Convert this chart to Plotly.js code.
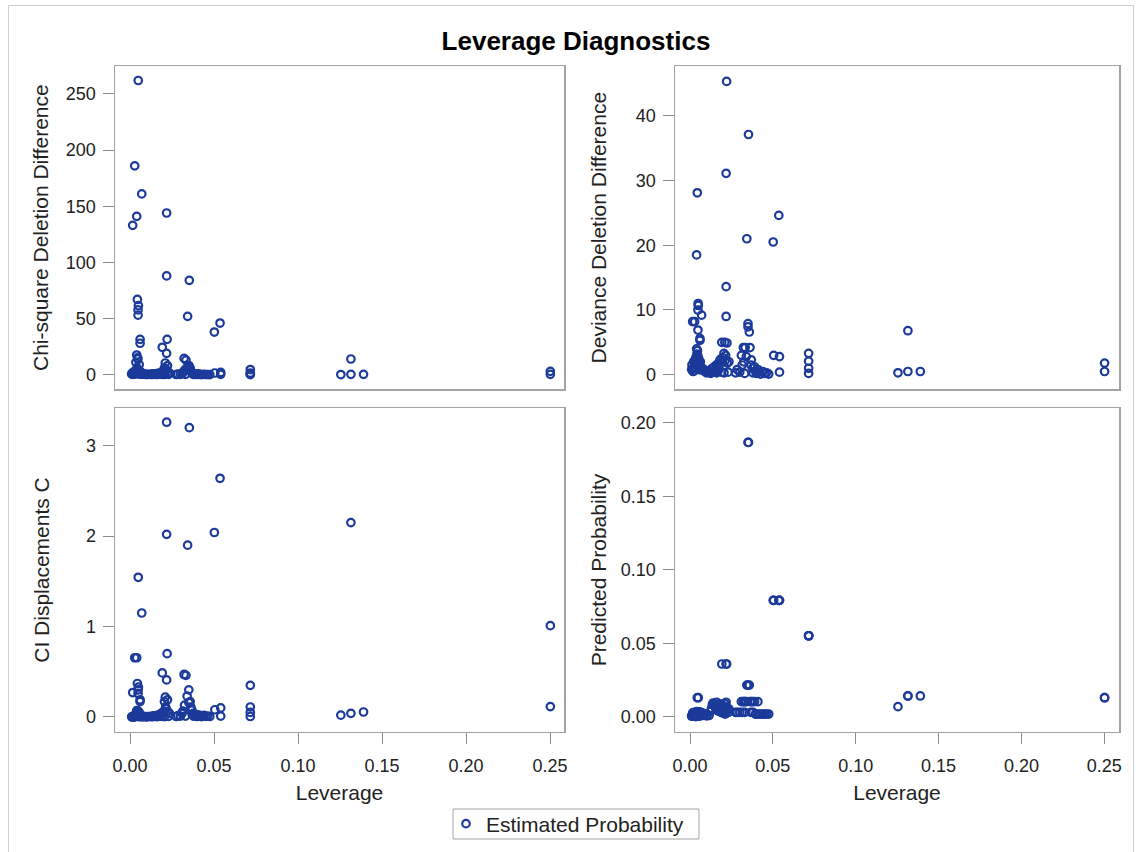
<!DOCTYPE html>
<html>
<head>
<meta charset="utf-8">
<script src="https://cdn.plot.ly/plotly-3.0.1.min.js"></script>
<style>html,body{margin:0;padding:0;background:#fff;}#chart{width:1140px;height:852px;}</style>
</head>
<body>
<div id="chart"></div>
<script>
// Observations (one entry per observation, same order in every array)
const leverage = [
  // low-leverage group
  0.0049, 0.0028, 0.0070, 0.0040, 0.0016, 0.0044, 0.0050, 0.0048, 0.0048, 0.0060,
  0.0060, 0.0040, 0.0045, 0.0047, 0.0035, 0.0055, 0.0010, 0.0020, 0.0025, 0.0030,
  0.0050, 0.0055, 0.0065, 0.0075, 0.0080, 0.0090, 0.0100, 0.0103, 0.0035, 0.0062,
  0.0012, 0.0018, 0.0022, 0.0033, 0.0038, 0.0042, 0.0052, 0.0058, 0.0068, 0.0085,
  // ~0.02 group
  0.0218, 0.0218, 0.0221, 0.0192, 0.0218, 0.0210, 0.0223, 0.0205, 0.0215, 0.0140,
  0.0160, 0.0180, 0.0150, 0.0170, 0.0190, 0.0205, 0.0230, 0.0160, 0.0125, 0.0235,
  0.0115, 0.0130, 0.0135, 0.0145, 0.0155, 0.0165, 0.0175, 0.0185, 0.0195, 0.0200, 0.0212, 0.0225,
  // ~0.035 group
  0.0353, 0.0350, 0.0343, 0.0350, 0.0358, 0.0322, 0.0333, 0.0362, 0.0310, 0.0370,
  0.0390, 0.0410, 0.0275, 0.0300, 0.0330, 0.0380, 0.0400, 0.0425, 0.0450, 0.0475,
  0.0285, 0.0315, 0.0325, 0.0340, 0.0368, 0.0378, 0.0395, 0.0415, 0.0440, 0.0462,
  // ~0.05 group
  0.0536, 0.0502, 0.0505, 0.0540, 0.0540,
  // 0.07 group
  0.0716, 0.0716, 0.0716, 0.0716,
  // 0.13 group
  0.1255, 0.1315, 0.1315, 0.1390,
  // 0.25 group
  0.2502, 0.2502
];
const chiSquareDiff = [
  262, 186, 161, 141, 133, 67, 61.5, 57.7, 53, 31.5,
  28, 17.5, 15, 14, 11, 9, 0.5, 0.6, 0.4, 0.8,
  1.0, 0.5, 0.6, 0.4, 0.5, 0.3, 0.2, 0.3, 2.0, 3.0,
  1.2, 0.3, 2.5, 1.5, 4.0, 6.0, 3.5, 2.0, 1.0, 0.6,
  144, 88, 31.5, 24.4, 19.0, 10.4, 8.0, 6.0, 4.0, 0.5,
  0.8, 1.0, 0.3, 0.4, 0.3, 0.2, 0.3, 0.2, 0.2, 1.5,
  0.4, 0.6, 0.3, 0.8, 0.5, 1.2, 0.7, 2.0, 1.5, 3.0, 5.0, 2.5,
  84, 4.5, 52, 8.2, 6.0, 14.6, 13.0, 3.0, 1.2, 1.0,
  0.8, 0.6, 0.2, 0.3, 0.3, 0.2, 0.2, 0.1, 0.2, 0.1,
  0.5, 2.0, 4.0, 6.5, 2.0, 1.0, 0.5, 0.3, 0.4, 0.2,
  46, 38, 1.5, 2.0, 0.3,
  4.6, 1.5, 0.7, 0.1,
  0.15, 14, 0.3, 0.35,
  3.0, 0.35
];
const devianceDiff = [
  11.0, 8.2, 9.2, 18.5, 8.2, 28.1, 10.7, 10.0, 6.9, 5.6,
  5.3, 4.0, 3.7, 3.0, 2.5, 2.0, 0.8, 1.0, 0.6, 1.2,
  1.5, 0.8, 1.2, 0.7, 0.9, 0.5, 0.3, 0.4, 2.2, 2.0,
  1.5, 0.5, 2.0, 1.8, 2.8, 3.2, 2.5, 1.6, 1.0, 0.7,
  13.6, 9.0, 45.3, 5.0, 31.1, 5.0, 4.9, 3.3, 3.0, 1.0,
  1.5, 2.2, 0.5, 0.6, 0.4, 0.3, 0.4, 0.3, 0.2, 2.0,
  0.6, 0.9, 0.5, 1.2, 0.8, 1.6, 1.0, 2.4, 2.0, 2.6, 2.2, 1.8,
  37.1, 7.9, 21.0, 7.4, 6.6, 4.2, 4.2, 4.2, 3.0, 2.3,
  1.2, 0.8, 0.3, 0.4, 0.2, 0.3, 0.2, 0.1, 0.2, 0.1,
  0.8, 1.5, 2.0, 2.8, 1.5, 1.0, 0.6, 0.4, 0.5, 0.3,
  24.6, 20.5, 3.0, 2.8, 0.4,
  3.3, 2.1, 1.0, 0.2,
  0.3, 6.8, 0.5, 0.5,
  1.8, 0.5
];
const ciDisplacementC = [
  1.545, 0.655, 1.15, 0.655, 0.27, 0.37, 0.33, 0.30, 0.26, 0.19,
  0.17, 0.07, 0.068, 0.066, 0.04, 0.05, 0.001, 0.002, 0.001, 0.003,
  0.005, 0.003, 0.004, 0.003, 0.004, 0.003, 0.002, 0.003, 0.007, 0.02,
  0.002, 0.001, 0.005, 0.005, 0.016, 0.024, 0.018, 0.012, 0.007, 0.005,
  3.26, 2.02, 0.70, 0.487, 0.41, 0.22, 0.19, 0.17, 0.09, 0.01,
  0.01, 0.02, 0.005, 0.007, 0.006, 0.004, 0.007, 0.003, 0.003, 0.04,
  0.005, 0.008, 0.004, 0.012, 0.008, 0.02, 0.012, 0.04, 0.03, 0.06, 0.11, 0.06,
  3.20, 0.16, 1.90, 0.30, 0.17, 0.47, 0.46, 0.11, 0.04, 0.03,
  0.03, 0.02, 0.005, 0.01, 0.01, 0.008, 0.005, 0.004, 0.006, 0.005,
  0.015, 0.065, 0.13, 0.23, 0.075, 0.04, 0.02, 0.012, 0.018, 0.01,
  2.64, 2.04, 0.08, 0.10, 0.01,
  0.35, 0.11, 0.05, 0.005,
  0.02, 2.15, 0.04, 0.055,
  1.01, 0.115
];
const predictedProb = [
  0.0035, 0.0030, 0.0030, 0.0037, 0.0025, 0.0131, 0.0131, 0.0020, 0.0020, 0.0015,
  0.0015, 0.0010, 0.0010, 0.0012, 0.0008, 0.0018, 0.0005, 0.0008, 0.0015, 0.0025,
  0.0030, 0.0005, 0.0020, 0.0010, 0.0025, 0.0015, 0.0008, 0.0014, 0.0003, 0.0022,
  0.0010, 0.0030, 0.0020, 0.0005, 0.0025, 0.0018, 0.0008, 0.0035, 0.0012, 0.0020,
  0.0068, 0.0100, 0.0360, 0.0360, 0.0360, 0.0090, 0.0063, 0.0065, 0.0045, 0.0095,
  0.0100, 0.0090, 0.0070, 0.0040, 0.0030, 0.0025, 0.0030, 0.0050, 0.0040, 0.0055,
  0.0010, 0.0060, 0.0085, 0.0080, 0.0060, 0.0075, 0.0055, 0.0035, 0.0080, 0.0050, 0.0020, 0.0045,
  0.1866, 0.1866, 0.0217, 0.0217, 0.0217, 0.0104, 0.0104, 0.0104, 0.0104, 0.0104,
  0.0104, 0.0104, 0.0032, 0.0032, 0.0032, 0.0032, 0.0020, 0.0020, 0.0020, 0.0020,
  0.0032, 0.0032, 0.0104, 0.0104, 0.0032, 0.0104, 0.0020, 0.0020, 0.0020, 0.0020,
  0.0793, 0.0793, 0.0793, 0.0793, 0.0793,
  0.0552, 0.0552, 0.0552, 0.0552,
  0.0070, 0.0143, 0.0143, 0.0143,
  0.0131, 0.0131
];

const chartTitle = 'Leverage Diagnostics';
const seriesName = 'Estimated Probability';
const xLabel = 'Leverage';
const yLabels = ['Chi-square Deletion Difference', 'Deviance Deletion Difference', 'CI Displacements C', 'Predicted Probability'];
const xTicks = [0, 0.05, 0.10, 0.15, 0.20, 0.25];
const yTicks1 = [0, 50, 100, 150, 200, 250];
const yTicks2 = [0, 10, 20, 30, 40];
const yTicks3 = [0, 1, 2, 3];
const yTicks4 = [0, 0.05, 0.10, 0.15, 0.20];

const FONT = 'Liberation Sans, Arial, sans-serif';
const MARK = '#1b3a9a';
const FRAME = '#a3a3a3';
const TICKC = '#8c8c8c';
const TXT = '#222222';

const marker = {symbol: 'circle-open', size: 7.5, color: MARK, line: {width: 2.2, color: MARK}};
const ys = [chiSquareDiff, devianceDiff, ciDisplacementC, predictedProb];
const traces = ys.map((y, i) => ({
  type: 'scatter', mode: 'markers',
  x: leverage, y: y,
  xaxis: i === 0 ? 'x' : 'x' + (i + 1),
  yaxis: i === 0 ? 'y' : 'y' + (i + 1),
  name: seriesName, showlegend: i === 0,
  marker: marker, cliponaxis: false
}));

const W = 1140, H = 852;
const dxL = [115 / W, 564 / W], dxR = [675 / W, 1119 / W];
const dyT = [1 - 389.3 / H, 1 - 66 / H], dyB = [1 - 731.7 / H, 1 - 408.3 / H];

function xax(domain, anchor, range, showLabels) {
  return {
    domain: domain, anchor: anchor, range: range,
    showline: true, mirror: true, linecolor: FRAME, linewidth: 1.5,
    showgrid: false, zeroline: false,
    tickvals: showLabels ? xTicks : [], tickformat: '.2f',
    ticks: showLabels ? 'outside' : '', ticklen: 11, tickcolor: TICKC, tickwidth: 1,
    showticklabels: showLabels, ticklabelstandoff: 6,
    tickfont: {family: FONT, size: 18, color: TXT},
    title: showLabels ? {text: xLabel, font: {family: FONT, size: 21, color: TXT}, standoff: 10} : {text: ''}
  };
}
function yax(domain, anchor, range, ticks, fmt, label, standoff) {
  return {
    domain: domain, anchor: anchor, range: range,
    showline: true, mirror: true, linecolor: FRAME, linewidth: 1.5,
    showgrid: false, zeroline: false,
    tickvals: ticks, tickformat: fmt,
    ticks: 'outside', ticklen: 11, tickcolor: TICKC, tickwidth: 1,
    ticklabelstandoff: 3,
    tickfont: {family: FONT, size: 18, color: TXT},
    title: {text: label, font: {family: FONT, size: 21, color: TXT}, standoff: standoff}
  };
}

const layout = {
  width: W, height: H, autosize: false,
  margin: {l: 0, r: 0, t: 0, b: 0},
  paper_bgcolor: '#ffffff', plot_bgcolor: '#ffffff',
  font: {family: FONT, color: TXT},
  title: {text: chartTitle, x: 576 / W, xanchor: 'center', y: 1 - 41 / H, yanchor: 'middle',
          font: {family: FONT, size: 26, weight: 'bold', color: '#000000'}},
  xaxis: xax(dxL, 'y', [-0.00893, 0.25833], false),
  xaxis2: xax(dxR, 'y2', [-0.00905, 0.2589], false),
  xaxis3: xax(dxL, 'y3', [-0.00893, 0.25833], true),
  xaxis4: xax(dxR, 'y4', [-0.00905, 0.2589], true),
  yaxis: yax(dyT, 'x', [-13.0, 274.9], yTicks1, '', yLabels[0], 11),
  yaxis2: yax(dyT, 'x2', [-2.25, 47.68], yTicks2, '', yLabels[1], 23),
  yaxis3: yax(dyB, 'x3', [-0.163, 3.414], yTicks3, '', yLabels[2], 30),
  yaxis4: yax(dyB, 'x4', [-0.0100, 0.2098], yTicks4, '.2f', yLabels[3], 8),
  showlegend: true,
  legend: {orientation: 'h', x: 446 / W, xanchor: 'left', y: 1 - 824 / H, yanchor: 'middle',
           borderwidth: 0, bgcolor: 'rgba(255,255,255,0)',
           font: {family: FONT, size: 21, color: TXT}},
  shapes: [
    {type: 'rect', xref: 'paper', yref: 'paper', x0: 8.5 / W, x1: 1133.5 / W, y0: -0.05, y1: 1 - 5.5 / H,
     line: {color: '#cfcfcf', width: 1}, fillcolor: 'rgba(0,0,0,0)', layer: 'below'},
    {type: 'rect', xref: 'paper', yref: 'paper', x0: 453 / W, x1: 699 / W, y0: 1 - 839 / H, y1: 1 - 809 / H,
     line: {color: FRAME, width: 1}, fillcolor: 'rgba(0,0,0,0)', layer: 'below'}
  ]
};

Plotly.newPlot('chart', traces, layout, {staticPlot: true, displayModeBar: false});
</script>
</body>
</html>
